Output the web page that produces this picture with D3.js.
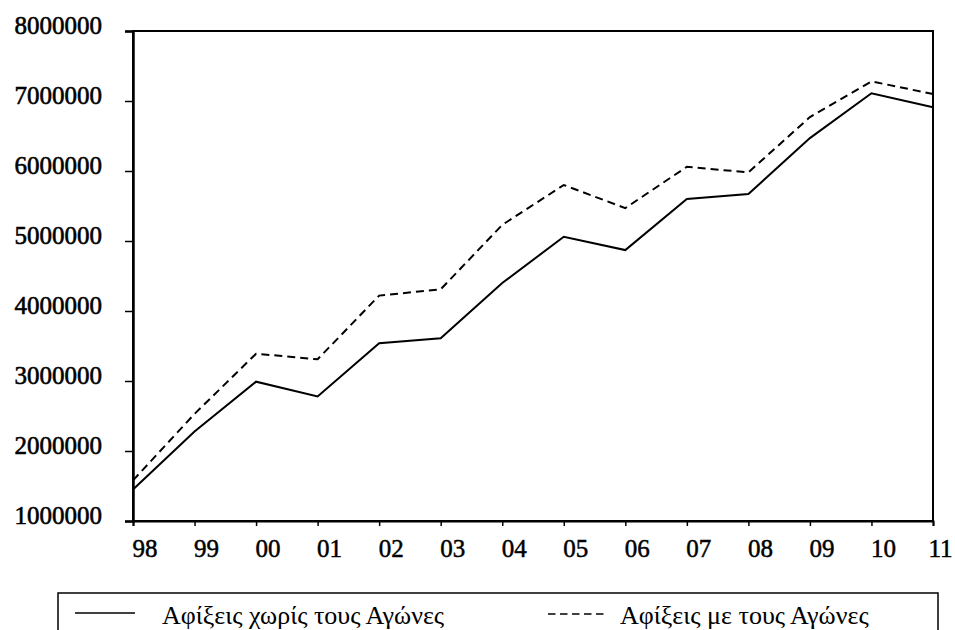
<!DOCTYPE html>
<html>
<head>
<meta charset="utf-8">
<script src="https://cdn.jsdelivr.net/npm/d3@7"></script>
<style>
  html, body { margin: 0; padding: 0; background: #fff; }
  svg { display: block; }
  text { font-family: "Liberation Serif", "Times New Roman", serif; fill: #000; }
</style>
</head>
<body>
<svg id="chart" width="955" height="630"></svg>
<script>
const years = ["98","99","00","01","02","03","04","05","06","07","08","09","10","11"];
const withoutGames = [1450000, 2280000, 2990000, 2780000, 3540000, 3610000, 4400000, 5060000, 4870000, 5600000, 5670000, 6470000, 7110000, 6910000];
const withGames = [1580000, 2530000, 3390000, 3310000, 4220000, 4310000, 5230000, 5800000, 5470000, 6060000, 5980000, 6770000, 7280000, 7100000];
const yTicks = [1000000, 2000000, 3000000, 4000000, 5000000, 6000000, 7000000, 8000000];
const seriesNames = ["Αφίξεις χωρίς τους Αγώνες", "Αφίξεις με τους Αγώνες"];

const svg = d3.select("#chart");
const mLeft = 133, mRight = 933, mTop = 31, mBottom = 521;

const x = d3.scalePoint().domain(years).range([mLeft, mRight]);
const y = d3.scaleLinear().domain([1000000, 8000000]).range([mBottom, mTop]);

// frame
svg.append("rect")
  .attr("x", mLeft).attr("y", mTop)
  .attr("width", mRight - mLeft).attr("height", mBottom - mTop)
  .attr("fill", "none").attr("stroke", "#000").attr("stroke-width", 2);

// y axis
const yAxis = svg.append("g")
  .attr("transform", `translate(${mLeft},0)`)
  .call(d3.axisLeft(y).tickValues(yTicks).tickSize(8).tickPadding(23).tickFormat(d3.format("d")));
yAxis.select(".domain").attr("stroke-width", 2.5);
yAxis.selectAll(".tick line").attr("stroke-width", 1.5);
yAxis.selectAll(".tick text")
  .attr("dy", "2px")
  .style("font-size", "25px")
  .style("font-family", "'Liberation Serif', serif")
  .attr("stroke", "#000").attr("stroke-width", 0.6);

// x axis
const xAxis = svg.append("g")
  .attr("transform", `translate(0,${mBottom})`)
  .call(d3.axisBottom(x).tickSize(5).tickPadding(0));
xAxis.select(".domain").attr("stroke-width", 2);
xAxis.selectAll(".tick line").attr("stroke-width", 1.5);
xAxis.selectAll(".tick text")
  .attr("y", 36).attr("dy", 0)
  .attr("x", (d, i) => i === years.length - 1 ? -5 : -1)
  .attr("text-anchor", "start")
  .style("font-size", "25px")
  .style("font-family", "'Liberation Serif', serif")
  .attr("stroke", "#000").attr("stroke-width", 0.5);

// lines
const line = d3.line().x((d, i) => x(years[i])).y(d => y(d));
svg.append("path").datum(withoutGames)
  .attr("d", line).attr("fill", "none").attr("stroke", "#000").attr("stroke-width", 2);
svg.append("path").datum(withGames)
  .attr("d", line).attr("fill", "none").attr("stroke", "#000").attr("stroke-width", 2)
  .attr("stroke-dasharray", "8,5");

// legend
const lg = svg.append("g");
lg.append("rect").attr("x", 58).attr("y", 593).attr("width", 880).attr("height", 60)
  .attr("fill", "none").attr("stroke", "#000").attr("stroke-width", 1.5);
lg.append("line").attr("x1", 75).attr("x2", 135).attr("y1", 613).attr("y2", 613)
  .attr("stroke", "#000").attr("stroke-width", 1.5);
lg.append("text").attr("x", 162).attr("y", 624).style("font-size", "26px").text(seriesNames[0]);
lg.append("line").attr("x1", 548).attr("x2", 604).attr("y1", 614).attr("y2", 614)
  .attr("stroke", "#000").attr("stroke-width", 1.5).attr("stroke-dasharray", "7.5,4.5");
lg.append("text").attr("x", 620).attr("y", 624).style("font-size", "26px").text(seriesNames[1]);
</script>
</body>
</html>
